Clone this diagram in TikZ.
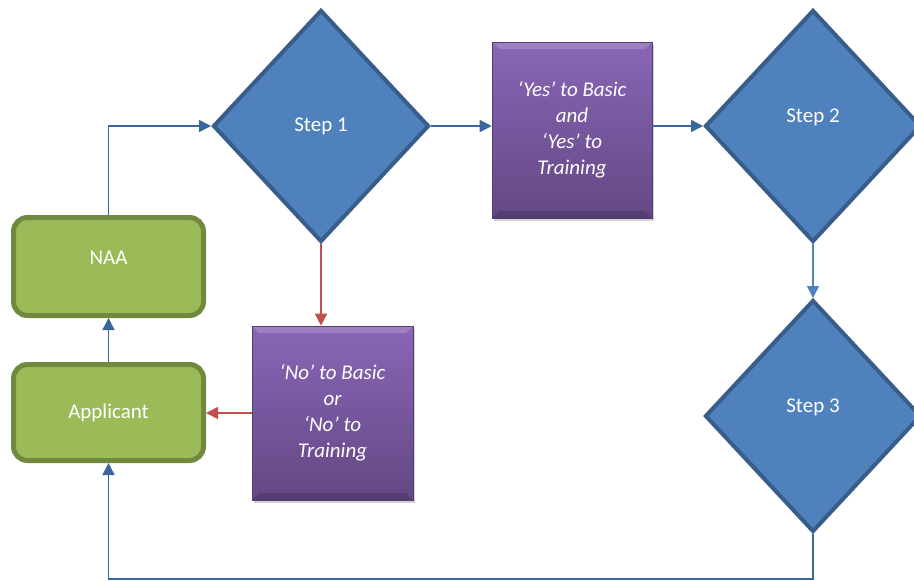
\documentclass[tikz,border=0pt]{standalone}
\usepackage{fontspec}
\setmainfont{Carlito}
\usetikzlibrary{shapes.geometric,arrows.meta,shadows}
\definecolor{stepblue}{RGB}{79,129,189}
\definecolor{stepedge}{RGB}{56,93,138}
\definecolor{linkblue}{RGB}{58,102,158}
\definecolor{boxgreen}{RGB}{155,187,89}
\definecolor{boxedge}{RGB}{113,137,63}
\definecolor{linkred}{RGB}{192,80,77}
\definecolor{violettop}{RGB}{136,102,182}
\definecolor{violetbot}{RGB}{100,72,132}
\tikzset{
  stepnode/.style={diamond,fill=stepblue,draw=stepedge,line width=4pt,minimum width=216pt,minimum height=232pt,inner sep=0pt},
  steptext/.style={text=white,font=\fontsize{21}{25}\selectfont},
  party/.style={rectangle,rounded corners=14pt,fill=boxgreen,draw=boxedge,line width=5pt,minimum width=190pt,inner sep=0pt},
  answer/.style={rectangle,top color=violettop,bottom color=violetbot,draw=violetbot!85!black,line width=0.6pt,
    align=center,text=white,font=\fontsize{21}{26}\selectfont\itshape,
    drop shadow={shadow xshift=2pt,shadow yshift=-3pt,opacity=0.35},
    path picture={
      \fill[white,opacity=0.18] (path picture bounding box.north west) -- (path picture bounding box.north east)
        -- ([xshift=-7pt,yshift=-7pt]path picture bounding box.north east) -- ([xshift=7pt,yshift=-7pt]path picture bounding box.north west) -- cycle;
      \fill[black,opacity=0.15] (path picture bounding box.south west) -- (path picture bounding box.south east)
        -- ([xshift=-7pt,yshift=7pt]path picture bounding box.south east) -- ([xshift=7pt,yshift=7pt]path picture bounding box.south west) -- cycle;}},
  link/.style={linkblue,line width=1.5pt,-{Triangle[length=12pt,width=12pt]}},
  nolink/.style={link,linkred},
}
\begin{document}
\begin{tikzpicture}[x=1pt,y=-1pt]
  \useasboundingbox (0,0) rectangle (914,581);
  % people
  \node[party,minimum height=98pt,label={[steptext,yshift=9pt]center:NAA}] (naa) at (108.5,266.5) {};
  \node[party,minimum height=96pt,label={[steptext]center:Applicant}] (app) at (108.5,412.5) {};
  % steps
  \node[stepnode,label={[steptext]center:Step 1}] (s1) at (321,126) {};
  \node[stepnode,label={[steptext,yshift=9pt]center:Step 2}] (s2) at (813,126) {};
  \node[stepnode,label={[steptext,yshift=9pt]center:Step 3}] (s3) at (813,416) {};
  % answers
  \node[answer,minimum width=160pt,minimum height=176pt] (yes) at (572,130) {‘Yes’ to Basic\\and\\‘Yes’ to\\Training};
  \node[answer,minimum width=161pt,minimum height=174pt] (no) at (332.5,413) {‘No’ to Basic\\or\\‘No’ to\\Training};
  \coordinate (back) at (813,579);
  % links
  \draw[link] (naa.north) |- (s1.west);
  \draw[link] (s1.east) -- (s1.east -| yes.west);
  \draw[link] (yes.east |- s2.west) -- (s2.west);
  \draw[link,stepblue] (s2.south) -- (s3.north);
  \draw[link] (s3.south) -- (back) -| (app.south);
  \draw[link] (app.north) -- (naa.south);
  \draw[nolink] (s1.south) -- (s1.south |- no.north);
  \draw[nolink] (no.west) -- (no.west -| app.east);
\end{tikzpicture}
\end{document}
